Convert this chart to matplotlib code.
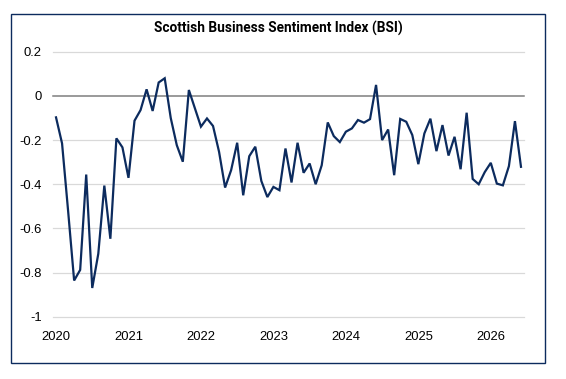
import matplotlib
matplotlib.use("Agg")
import matplotlib.pyplot as plt
from matplotlib.patches import Rectangle
from matplotlib import font_manager

# ---- data (monthly index values, Jan 2020 onwards) ----
bsi_values = [
    -0.097, -0.215, -0.52, -0.836, -0.788, -0.356, -0.870, -0.715, -0.406, -0.647,
    -0.192, -0.233, -0.371, -0.112, -0.064, 0.030, -0.068, 0.061, 0.080, -0.100,
    -0.223, -0.298, 0.027, -0.056, -0.139, -0.102, -0.136, -0.253, -0.415, -0.336,
    -0.212, -0.450, -0.273, -0.230, -0.385, -0.458, -0.412, -0.427, -0.238, -0.392,
    -0.212, -0.348, -0.306, -0.400, -0.314, -0.120, -0.182, -0.209, -0.162, -0.147,
    -0.109, -0.121, -0.105, 0.050, -0.200, -0.152, -0.359, -0.104, -0.117, -0.177,
    -0.309, -0.170, -0.103, -0.250, -0.132, -0.270, -0.185, -0.332, -0.076, -0.376,
    -0.400, -0.345, -0.303, -0.397, -0.405, -0.318, -0.114, -0.321,
]
year_labels = ["2020", "2021", "2022", "2023", "2024", "2025", "2026"]
y_ticks = [0.2, 0, -0.2, -0.4, -0.6, -0.8, -1]
y_tick_labels = ["0.2", "0", "-0.2", "-0.4", "-0.6", "-0.8", "-1"]
title_text = "Scottish Business Sentiment Index (BSI)"

names = {f.name for f in font_manager.fontManager.ttflist}
tick_font = "Liberation Sans" if "Liberation Sans" in names else "DejaVu Sans"
title_font = "Roboto" if "Roboto" in names else tick_font

W, H = 566, 379
fig = plt.figure(figsize=(W / 100, H / 100), dpi=100)
fig.patch.set_facecolor("white")

ax = fig.add_axes([53 / W, 1 - 316.7 / H, (524 - 53) / W, (316.7 - 51.8) / H])
n = len(bsi_values)
x = list(range(n))
ax.set_xlim(-0.5, n - 0.5)
ax.set_ylim(-1, 0.2)

for t in y_ticks:
    if t == 0:
        continue
    ax.axhline(t, color="#D9D9D9", lw=0.9, zorder=1, clip_on=False)
ax.axhline(0, color="#7F7F7F", lw=1.1, zorder=2, clip_on=False)

ax.plot(x, bsi_values, color="#0C2B5E", lw=1.6, zorder=3, solid_joinstyle="miter")

ax.set_yticks(y_ticks)
ax.set_yticklabels(y_tick_labels)
ax.set_xticks([12 * i for i in range(len(year_labels))])
ax.set_xticklabels(year_labels)
ax.tick_params(axis="both", length=0, labelsize=9.4, colors="#000000")
ax.tick_params(axis="y", pad=8)
ax.tick_params(axis="x", pad=10.5)
for lab in ax.get_xticklabels() + ax.get_yticklabels():
    lab.set_fontfamily(tick_font)
for s in ax.spines.values():
    s.set_visible(False)
ax.set_facecolor("none")

fig.text(278 / W, 1 - 28 / H, title_text, ha="center", va="center",
         fontsize=9.8, fontweight="bold", family=title_font, color="#000000")

rect = Rectangle((10.8 / W, 1 - 362.5 / H), (544.5 - 10.8) / W, (362.5 - 13.7) / H,
                 transform=fig.transFigure, fill=False, edgecolor="#0C2B5E", lw=1.0)
fig.patches.append(rect)

fig.savefig("out.png", dpi=100)
